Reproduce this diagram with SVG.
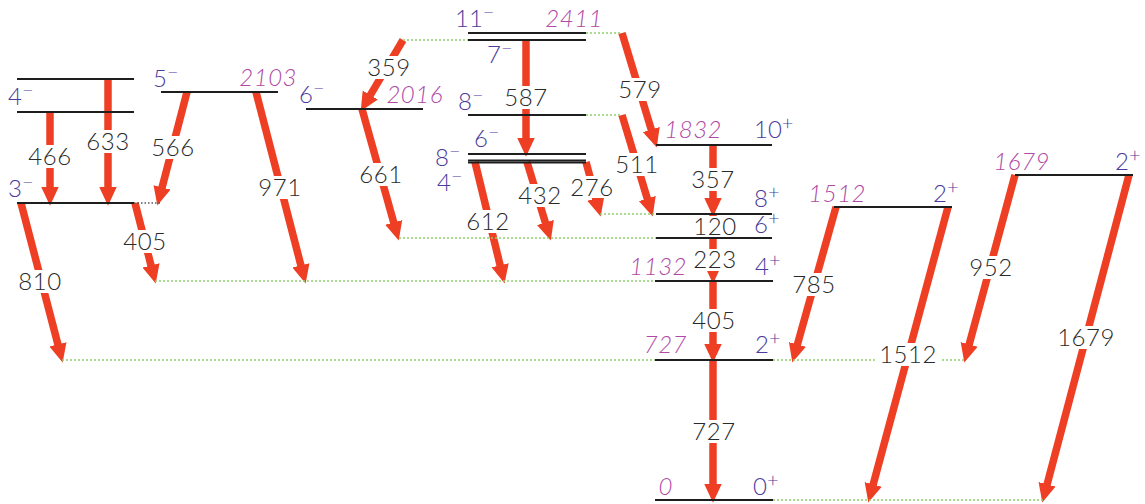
<svg xmlns="http://www.w3.org/2000/svg" width="1145" height="504" viewBox="0 0 1145 504">
<style>
text{font-family:"Lato","Open Sans","Liberation Sans",sans-serif;font-weight:300}
.g{font-size:24px;fill:#2a2a2a;text-anchor:middle;letter-spacing:0.5px}
.s{font-size:24px;fill:#4a3b9c}
.e{font-size:24px;fill:#b04aa6;font-style:italic;letter-spacing:0.5px;text-anchor:end}
.sup{font-size:20px}
.a{stroke:#ee3f24;stroke-width:7.5;fill:none;marker-end:url(#h)}
.lv{stroke:#1e1e1e;stroke-width:2}
.d{stroke:#8ed06a;stroke-width:1.5;stroke-dasharray:2 2;fill:none}
.dk{stroke:#555;stroke-width:1.3;stroke-dasharray:1.5 2;fill:none}
.bg{fill:#fff}
</style>
<defs>
<marker id="h" markerUnits="userSpaceOnUse" markerWidth="20" markerHeight="20" viewBox="0 -8 17 16" refX="1" refY="0" orient="auto">
<path d="M0,-7.5 L16,0 L0,7.5 z" fill="#ee3f24"/>
</marker>
</defs>
<g id="connectors">
<line class="a" x1="50" y1="112" x2="50" y2="188"/>
<line class="a" x1="108" y1="79" x2="108" y2="188"/>
<line class="a" x1="187" y1="92" x2="161.8" y2="188.5"/>
<line class="a" x1="256" y1="92" x2="301.2" y2="266.5"/>
<line class="a" x1="21" y1="203" x2="58.2" y2="345.5"/>
<line class="a" x1="135" y1="203" x2="151.3" y2="266.5"/>
<line class="a" x1="403" y1="40" x2="369.7" y2="96.1"/>
<line class="a" x1="362" y1="109" x2="394" y2="223.6"/>
<line class="a" x1="526" y1="40" x2="526" y2="139"/>
<line class="a" x1="475" y1="162" x2="500.4" y2="266.4"/>
<line class="a" x1="527" y1="162" x2="545.7" y2="223.6"/>
<line class="a" x1="586" y1="162" x2="596.1" y2="199.5"/>
<line class="a" x1="622" y1="33" x2="651.6" y2="130.6"/>
<line class="a" x1="622" y1="115" x2="647.6" y2="199.6"/>
<line class="a" x1="713" y1="145" x2="713" y2="199"/>
<line stroke="#ee3f24" stroke-width="7.5" x1="713" y1="214" x2="713" y2="238"/>
<line class="a" x1="713" y1="238" x2="713" y2="266"/>
<line class="a" x1="713" y1="281" x2="713" y2="345"/>
<line class="a" x1="713" y1="360" x2="713" y2="485"/>
<line class="a" x1="836" y1="207" x2="797.1" y2="345.6"/>
<line class="a" x1="948" y1="207" x2="872.9" y2="485.5"/>
<line class="a" x1="1015" y1="175" x2="968.9" y2="345.5"/>
<line class="a" x1="1129" y1="175" x2="1046.8" y2="485.5"/>
<path class="dk" d="M134,203 H160"/>
<path class="d" d="M155,281 H655"/>
<path class="d" d="M62,360 H655 M773,360 H876 M942,360 H966"/>
<path class="d" d="M399,238 H656"/>
<path class="d" d="M600,214 H656"/>
<path class="d" d="M403,40 H468"/>
<path class="d" d="M586,33 H622"/>
<path class="d" d="M586,115 H622"/>
<path class="d" d="M773,500 H1044"/>
</g>
<g id="gamma-labels">
<rect class="bg" x="26" y="145" width="48" height="23"/><text class="g" x="50" y="165">466</text>
<rect class="bg" x="84" y="130" width="48" height="23"/><text class="g" x="108" y="150">633</text>
<rect class="bg" x="149" y="136" width="48" height="23"/><text class="g" x="173" y="156">566</text>
<rect class="bg" x="256" y="176" width="48" height="23"/><text class="g" x="280" y="196">971</text>
<rect class="bg" x="121" y="230" width="48" height="23"/><text class="g" x="145" y="250">405</text>
<rect class="bg" x="16" y="270" width="48" height="23"/><text class="g" x="40" y="290">810</text>
<rect class="bg" x="365" y="56" width="48" height="23"/><text class="g" x="389" y="76">359</text>
<rect class="bg" x="357" y="163" width="48" height="23"/><text class="g" x="381" y="183">661</text>
<rect class="bg" x="502" y="86" width="48" height="23"/><text class="g" x="526" y="106">587</text>
<rect class="bg" x="464" y="210" width="48" height="23"/><text class="g" x="488" y="230">612</text>
<rect class="bg" x="516" y="184" width="48" height="23"/><text class="g" x="540" y="204">432</text>
<rect class="bg" x="568" y="176" width="48" height="22"/><text class="g" x="592" y="196">276</text>
<rect class="bg" x="616" y="78" width="48" height="23"/><text class="g" x="640" y="98">579</text>
<rect class="bg" x="613" y="153" width="48" height="23"/><text class="g" x="637" y="173">511</text>
<rect class="bg" x="689" y="168" width="48" height="23"/><text class="g" x="713" y="188">357</text>
<rect class="bg" x="691" y="216" width="48" height="22"/><text class="g" x="715" y="235">120</text>
<rect class="bg" x="691" y="249" width="46" height="22"/><text class="g" x="715" y="268">223</text>
<rect class="bg" x="690" y="309" width="48" height="23"/><text class="g" x="714" y="329">405</text>
<rect class="bg" x="690" y="420" width="48" height="23"/><text class="g" x="714" y="440">727</text>
<rect class="bg" x="790" y="273" width="48" height="23"/><text class="g" x="814" y="293">785</text>
<rect class="bg" x="877" y="343" width="62" height="23"/><text class="g" x="908" y="363">1512</text>
<rect class="bg" x="967" y="256" width="48" height="23"/><text class="g" x="991" y="276">952</text>
<rect class="bg" x="1055" y="326" width="62" height="23"/><text class="g" x="1086" y="346">1679</text>
</g>
<g id="level-4m-upper"><line class="lv" x1="17" y1="79" x2="134" y2="79"/></g>
<g id="level-4m"><line class="lv" x1="17" y1="112" x2="134" y2="112"/><text class="s" x="8" y="105">4<tspan class="sup" dy="-8">−</tspan></text></g>
<g id="level-3m"><line class="lv" x1="17" y1="203" x2="134" y2="203"/><text class="s" x="8" y="197">3<tspan class="sup" dy="-8">−</tspan></text></g>
<g id="level-2103"><line class="lv" x1="161" y1="92" x2="278" y2="92"/><text class="s" x="153" y="87">5<tspan class="sup" dy="-8">−</tspan></text><text class="e" x="297" y="86">2103</text></g>
<g id="level-2016"><line class="lv" x1="306" y1="109" x2="423" y2="109"/><text class="s" x="299" y="103">6<tspan class="sup" dy="-8">−</tspan></text><text class="e" x="443" y="103">2016</text></g>
<g id="level-2411"><line class="lv" x1="468" y1="33" x2="586" y2="33"/><text class="s" x="455" y="27">11<tspan class="sup" dy="-8">−</tspan></text><text class="e" x="603" y="27">2411</text></g>
<g id="level-7m"><line class="lv" x1="468" y1="40" x2="586" y2="40"/><text class="s" x="487" y="63">7<tspan class="sup" dy="-8">−</tspan></text></g>
<g id="level-8m-upper"><line class="lv" x1="468" y1="115" x2="586" y2="115"/><text class="s" x="458" y="110">8<tspan class="sup" dy="-8">−</tspan></text></g>
<g id="level-6m"><line class="lv" x1="468" y1="154" x2="586" y2="154"/><text class="s" x="474" y="147">6<tspan class="sup" dy="-8">−</tspan></text></g>
<g id="level-8m-4m"><line class="lv" x1="468" y1="160.5" x2="586" y2="160.5"/><line class="lv" x1="468" y1="162.5" x2="586" y2="162.5"/><text class="s" x="435" y="166">8<tspan class="sup" dy="-8">−</tspan></text><text class="s" x="437" y="191">4<tspan class="sup" dy="-8">−</tspan></text></g>
<g id="level-1832"><line class="lv" x1="656" y1="145" x2="772" y2="145"/><text class="e" x="722" y="138">1832</text><text class="s" x="754" y="138">10<tspan class="sup" dy="-8">+</tspan></text></g>
<g id="level-8p"><line class="lv" x1="656" y1="214" x2="772" y2="214"/><text class="s" x="754" y="207">8<tspan class="sup" dy="-8">+</tspan></text></g>
<g id="level-6p"><line class="lv" x1="656" y1="238" x2="772" y2="238"/><text class="s" x="754" y="233">6<tspan class="sup" dy="-8">+</tspan></text></g>
<g id="level-1132"><line class="lv" x1="655" y1="281" x2="773" y2="281"/><text class="e" x="687" y="275">1132</text><text class="s" x="755" y="275">4<tspan class="sup" dy="-8">+</tspan></text></g>
<g id="level-727"><line class="lv" x1="655" y1="360" x2="773" y2="360"/><text class="e" x="687" y="353">727</text><text class="s" x="755" y="353">2<tspan class="sup" dy="-8">+</tspan></text></g>
<g id="level-0"><line class="lv" x1="655" y1="500" x2="773" y2="500"/><text class="e" x="673" y="495">0</text><text class="s" x="753" y="495">0<tspan class="sup" dy="-8">+</tspan></text></g>
<g id="level-1512"><line class="lv" x1="834" y1="207" x2="952" y2="207"/><text class="e" x="866" y="202">1512</text><text class="s" x="933" y="202">2<tspan class="sup" dy="-8">+</tspan></text></g>
<g id="level-1679"><line class="lv" x1="1015" y1="175" x2="1133" y2="175"/><text class="e" x="1050" y="170">1679</text><text class="s" x="1115" y="170">2<tspan class="sup" dy="-8">+</tspan></text></g>
</svg>
